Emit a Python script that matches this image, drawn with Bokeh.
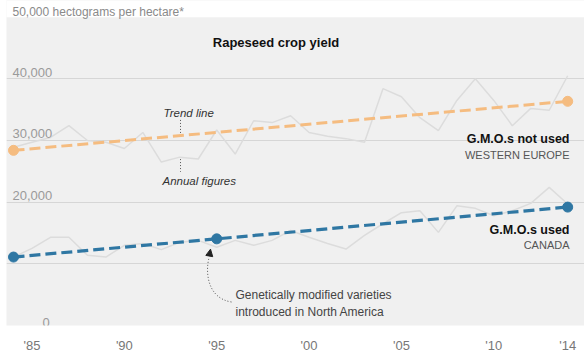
from bokeh.plotting import figure
from bokeh.models import Range1d, FixedTicker, Label, Arrow, NormalHead, ColumnDataSource, BoxAnnotation
from bokeh.embed import file_html
from bokeh.resources import INLINE

# ---------------- data ----------------
years = list(range(1984, 2015))
europe_annual = [28900, 29700, 30500, 32400, 30000, 29700, 28700, 31300, 26500, 27300,
                 27000, 31700, 27800, 33200, 32900, 34000, 31300, 30700, 30300, 29700,
                 38400, 37100, 33700, 31600, 36500, 40000, 36500, 32400, 35200, 34900, 40500]
canada_annual = [11100, 12500, 14300, 14300, 11400, 11100, 13000, 13300, 12300, 13500,
                 13800, 12700, 13800, 13000, 13800, 15400, 14300, 13300, 12400, 14600,
                 16500, 18300, 18600, 15100, 19400, 19000, 17800, 18600, 19800, 22400, 19700]
europe_trend_years = [1984, 2014]
europe_trend = [28400, 36350]
canada_trend_years = [1984, 1995, 2014]
canada_trend = [11100, 14050, 19200]

x_ticks = [1985, 1990, 1995, 2000, 2005, 2010, 2014]
x_tick_labels = ["'85", "'90", "'95", "'00", "'05", "'10", "'14"]
y_grid_values = [10000, 20000, 30000, 40000]
y_label_values = [40000, 30000, 20000]
y_label_texts = ["40,000", "30,000", "20,000"]
y_top = 50000

FONT = "Liberation Sans"
ORANGE = "#f5bc80"
BLUE = "#2f77a3"
GRAYLINE = "#dcdcdc"

X0, X1 = 1983.62, 2014.91
W, H = 584, 355
FL, FT, FB = 6, 17, 332  # panel left, top, bottom in px
Y1 = y_top * FB / (FB - FT)  # frame reaches the top of the canvas

def dx(px):
    return X0 + (px - FL) * (X1 - X0) / (W - FL)

def dy(py):
    return (FB - py) * y_top / (FB - FT)

p = figure(width=W, height=H, x_range=Range1d(X0, X1), y_range=Range1d(0, Y1),
           output_backend="svg", toolbar_location=None, y_axis_location=None,
           min_border_left=FL, min_border_right=0, min_border_top=0, min_border_bottom=H - FB)
p.background_fill_color = "#f0f0f0"
p.border_fill_color = "white"
p.outline_line_color = None
p.xgrid.grid_line_color = None
p.ygrid.ticker = FixedTicker(ticks=y_grid_values)
p.ygrid.grid_line_color = "#d6d6d6"
p.ygrid.grid_line_width = 1

# white strip above the panel
p.add_layout(BoxAnnotation(bottom=y_top, fill_color="white", fill_alpha=1, line_alpha=0,
                           left=X0 - 1, right=X1 + 1))

xa = p.xaxis[0]
xa.ticker = FixedTicker(ticks=x_ticks)
xa.major_label_overrides = {t: l for t, l in zip(x_ticks, x_tick_labels)}
xa.axis_line_color = None
xa.major_tick_line_color = None
xa.minor_tick_line_color = None
xa.major_label_text_font = FONT
xa.major_label_text_font_size = "13px"
xa.major_label_text_color = "#777777"
xa.major_label_standoff = 6

# annual figures
p.line(years, europe_annual, line_color=GRAYLINE, line_width=1.5)
p.line(years, canada_annual, line_color=GRAYLINE, line_width=1.5)

# trend lines
p.line(europe_trend_years, europe_trend, line_color=ORANGE, line_width=3, line_dash="11 5")
p.scatter([europe_trend_years[0], europe_trend_years[-1]], [europe_trend[0], europe_trend[-1]],
          size=10, fill_color=ORANGE, line_color=ORANGE)
p.line(canada_trend_years, canada_trend, line_color=BLUE, line_width=3.2, line_dash="11 5")
p.scatter(canada_trend_years, canada_trend, size=10, fill_color=BLUE, line_color=BLUE)

# y tick labels
for v, t in zip(y_label_values, y_label_texts):
    p.add_layout(Label(x=X0, y=v, x_offset=6, y_offset=6.5, text=t, text_font=FONT,
                       text_font_size="13px", text_color="#9a9a9a", text_baseline="middle"))
p.add_layout(Label(x=X0, y=0, x_offset=36, y_offset=3.5, text="0", text_font=FONT,
                   text_font_size="13px", text_color="#9a9a9a", text_baseline="middle"))
p.add_layout(Label(x=X0, y=y_top, x_offset=6, y_offset=5.5, text="50,000 hectograms per hectare*",
                   text_font=FONT, text_font_size="12px", text_color="#8a8a8a",
                   text_baseline="middle"))

# title
p.add_layout(Label(x=dx(275.5), y=dy(43), text="Rapeseed crop yield", text_font=FONT,
                   text_font_size="13px", text_font_style="bold", text_color="#111111",
                   text_align="center", text_baseline="middle"))

# trend / annual annotations
p.add_layout(Label(x=dx(163), y=dy(115), text="Trend line", text_font=FONT,
                   text_font_size="11.5px", text_font_style="italic", text_color="#333333",
                   text_baseline="middle"))
p.add_layout(Label(x=dx(162), y=dy(184.5), text="Annual figures", text_font=FONT,
                   text_font_size="11.5px", text_font_style="italic", text_color="#333333",
                   text_baseline="middle"))
seg = ColumnDataSource(dict(x0=[dx(180), dx(180)], y0=[dy(122), dy(162)],
                            x1=[dx(180), dx(180)], y1=[dy(137), dy(175)]))
p.segment("x0", "y0", "x1", "y1", source=seg, line_color="#555555", line_width=1,
          line_dash="1 2")

# series labels
def rlabel(py, text, size, style, color):
    p.add_layout(Label(x=dx(569), y=dy(py), text=text, text_font=FONT, text_font_size=size,
                       text_font_style=style, text_color=color, text_align="right",
                       text_baseline="middle"))

rlabel(141, "G.M.O.s not used", "12.5px", "bold", "#111111")
rlabel(157.5, "WESTERN EUROPE", "11px", "normal", "#555555")
rlabel(234, "G.M.O.s used", "12.5px", "bold", "#111111")
rlabel(249.5, "CANADA", "11px", "normal", "#555555")

# GMO annotation
p.add_layout(Label(x=dx(235), y=dy(301), text="Genetically modified varieties", text_font=FONT,
                   text_font_size="12px", text_color="#444444", text_baseline="middle"))
p.add_layout(Label(x=dx(235), y=dy(318), text="introduced in North America", text_font=FONT,
                   text_font_size="12px", text_color="#444444", text_baseline="middle"))
p.bezier(x0=[dx(231)], y0=[dy(308)], x1=[dx(208.5)], y1=[dy(263)],
         cx0=[dx(206)], cy0=[dy(304)], cx1=[dx(205)], cy1=[dy(276)],
         line_color="#555555", line_width=1, line_dash="1 2")
p.add_layout(Arrow(end=NormalHead(size=7, fill_color="#222222", line_color="#222222"),
                   x_start=dx(208.6), y_start=dy(262), x_end=dx(210), y_end=dy(254),
                   line_alpha=0))

open("out.html", "w").write(file_html(p, INLINE))
